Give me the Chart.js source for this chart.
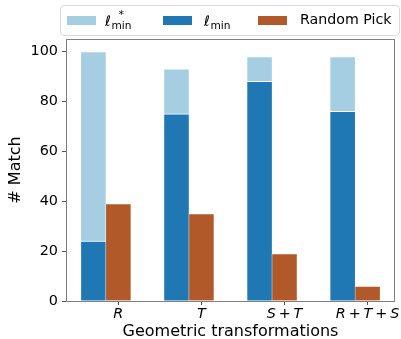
<!DOCTYPE html>
<html>
<head>
<meta charset="utf-8">
<script src="https://cdn.jsdelivr.net/npm/chart.js@4"></script>
<style>
  html, body { margin: 0; padding: 0; background: #fff; }
  #wrap { position: relative; width: 401px; height: 339px; }
  #legend {
    position: absolute; left: 60px; top: 5px; width: 340px; height: 31px;
    box-sizing: border-box; border: 1px solid #d9d9d9; border-radius: 4px;
    background: rgba(255,255,255,0.8);
    font-family: 'DejaVu Sans'; font-size: 14.2px; color: #000;
  }
  .sw { position: absolute; width: 29px; height: 9px; top: 10px; }
  .lbl { position: absolute; top: -1px; height: 29px; line-height: 29px; white-space: nowrap; }
  .ell { font-style: italic; font-size: 14.2px; position: relative; top: 1.5px; }
  .scr { position: relative; display: inline-block; font-size: 10.6px; margin-left: 0.5px; }
  .scr .sub { position: relative; top: 4.5px; }
  .scr .sup { position: absolute; left: 0; right: 0; text-align: center; top: -6px; font-size: 11px; }
</style>
</head>
<body>
<div id="wrap">
  <canvas id="c" width="401" height="339"></canvas>
  <div id="legend"></div>
</div>
<script>
// ---- data ----
const categories = ['R', 'T', 'S + T', 'R + T + S'];
const seriesLabels = ['ℓ*_min', 'ℓ_min', 'Random Pick'];
const lStarMin = [100, 93, 98, 98];
const lMin = [24, 75, 88, 76];
const randomPick = [39, 35, 19, 6];
const yTicks = [0, 20, 40, 60, 80, 100];
const colors = ['#a6cee3', '#1f78b4', '#b15928'];

const barW = 0.3;
const xLo = -barW - barW / 2, xHi = (categories.length - 1) + barW / 2;
const xMargin = 0.05 * (xHi - xLo);

function pts(vals, off) { return vals.map((v, i) => ({ x: i + off, y: v })); }

const border = { top: 1, left: 0.5, right: 0.5, bottom: 0 };
const datasets = [
  { label: seriesLabels[0], data: pts(lStarMin, -barW), backgroundColor: colors[0], order: 3 },
  { label: seriesLabels[1], data: pts(lMin, -barW), backgroundColor: colors[1], order: 2 },
  { label: seriesLabels[2], data: pts(randomPick, 0), backgroundColor: colors[2], order: 1 }
].map(d => Object.assign(d, {
  grouped: false, barPercentage: 1, categoryPercentage: 1,
  borderColor: '#ffffff', borderWidth: border, borderSkipped: false
}));

const frame = {
  id: 'frame',
  afterDatasetsDraw(chart) {
    const a = chart.chartArea, ctx = chart.ctx;
    ctx.save();
    ctx.strokeStyle = '#808080';
    ctx.lineWidth = 1;
    ctx.strokeRect(Math.round(a.left) + 0.5, Math.round(a.top) + 0.5,
                   Math.round(a.right - a.left) - 1, Math.round(a.bottom - a.top));
    ctx.restore();
  }
};

const tickFont = { family: 'DejaVu Sans', size: 14.4 };
new Chart(document.getElementById('c'), {
  type: 'bar',
  data: { datasets },
  options: {
    responsive: false, animation: false,
    layout: { padding: { top: 39, right: 6, left: 0, bottom: 0 } },
    plugins: { legend: { display: false }, tooltip: { enabled: false } },
    scales: {
      x: {
        type: 'linear', offset: false,
        min: xLo - xMargin, max: xHi + xMargin,
        afterBuildTicks: s => { s.ticks = categories.map((c, i) => ({ value: i })); },
        afterFit: s => { s.height = 38; },
        grid: { drawOnChartArea: false, drawTicks: true, tickLength: 4, color: '#555', offset: false },
        border: { display: false },
        ticks: { font: Object.assign({ style: 'italic' }, tickFont), color: '#000', padding: 1, maxRotation: 0, autoSkip: false,
                 callback: v => (categories[v] || '').replace(/ /g, '\u2009') },
        title: { display: true, text: 'Geometric transformations', color: '#000',
                 font: { family: 'DejaVu Sans', size: 16, lineHeight: 0.85 }, padding: { top: 0, bottom: 0 } }
      },
      y: {
        min: 0, max: 105,
        afterBuildTicks: s => { s.ticks = yTicks.map(v => ({ value: v })); },
        afterFit: s => { s.width = 66; },
        grid: { drawOnChartArea: false, drawTicks: true, tickLength: 4, color: '#555' },
        border: { display: false },
        ticks: { font: tickFont, color: '#000', padding: 4 },
        title: { display: true, text: '# Match', color: '#000',
                 font: { family: 'DejaVu Sans', size: 16, lineHeight: 1 }, padding: { top: 8, bottom: 0 } }
      }
    }
  },
  plugins: [frame]
});

// ---- HTML legend (for sub/superscripts) ----
const swLeft = [6, 102, 197];      // patch positions inside the legend frame
const txtLeft = [44, 143, 239];    // label positions inside the legend frame
function labelHtml(s) {
  const m = s.match(/^(ℓ)(\*?)_(\w+)$/);
  if (!m) return s;
  return '<span class="ell">' + m[1] + '</span><span class="scr">' +
         (m[2] ? '<span class="sup">' + m[2] + '</span>' : '') +
         '<span class="sub">' + m[3] + '</span></span>';
}
const leg = document.getElementById('legend');
seriesLabels.forEach((s, i) => {
  const sw = document.createElement('span');
  sw.className = 'sw';
  sw.style.left = swLeft[i] + 'px';
  sw.style.background = colors[i];
  const lb = document.createElement('span');
  lb.className = 'lbl';
  lb.style.left = txtLeft[i] + 'px';
  lb.innerHTML = labelHtml(s);
  leg.appendChild(sw);
  leg.appendChild(lb);
});
</script>
</body>
</html>
